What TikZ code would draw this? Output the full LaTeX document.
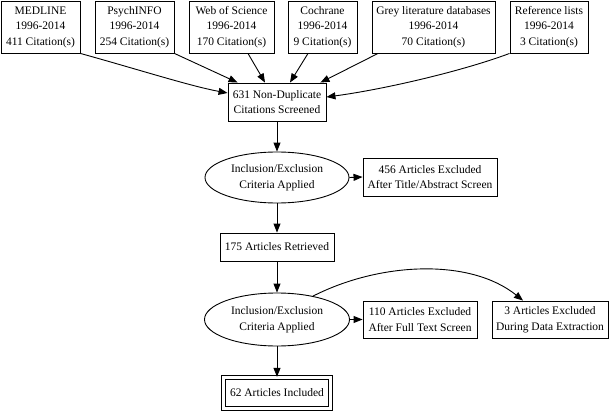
\documentclass[tikz,border=0pt]{standalone}
\usepackage{fontspec}
\setmainfont{Liberation Serif}
\usetikzlibrary{arrows.meta,shapes.geometric}
\begin{document}
\begin{tikzpicture}[x=1pt,y=-1pt,
  every node/.style={font=\fontsize{11.5}{15.5}\selectfont, align=center, inner sep=0pt},
  box/.style={draw, line width=0.9pt, rectangle},
  oval/.style={draw, line width=0.9pt, ellipse, minimum width=144pt, minimum height=51pt},
  final/.style={draw, line width=0.9pt, double, double distance=3pt, rectangle},
  edge/.style={line width=0.9pt, -{Triangle[length=9pt,width=7pt]}}]
\useasboundingbox (0,0) rectangle (611,412);
\node[box, minimum width=79pt, minimum height=52pt] (med) at (40.5,27) {MEDLINE\\1996-2014\\411 Citation(s)};
\node[box, minimum width=79pt, minimum height=52pt] (psy) at (134.5,27) {PsychINFO\\1996-2014\\254 Citation(s)};
\node[box, minimum width=85pt, minimum height=52pt] (wos) at (231.5,27) {Web of Science\\1996-2014\\170 Citation(s)};
\node[box, minimum width=69pt, minimum height=52pt] (coch) at (322.5,27) {Cochrane\\1996-2014\\9 Citation(s)};
\node[box, minimum width=123pt, minimum height=52pt] (grey) at (433.5,27) {Grey literature databases\\1996-2014\\70 Citation(s)};
\node[box, minimum width=78pt, minimum height=52pt] (ref) at (549,27) {Reference lists\\1996-2014\\3 Citation(s)};
\node[box, minimum width=98pt, minimum height=38pt] (nd) at (277,102) {631 Non-Duplicate\\Citations Screened};
\node[oval] (e1) at (277,177.5) {Inclusion/Exclusion\\Criteria Applied};
\node[box, minimum width=134pt, minimum height=38pt] (ex1) at (430,177) {456 Articles Excluded\\After Title/Abstract Screen};
\node[box, minimum width=114pt, minimum height=28pt] (ret) at (277,247) {175 Articles Retrieved};
\node[oval, minimum height=53pt, minimum width=145pt] (e2) at (277,319.5) {Inclusion/Exclusion\\Criteria Applied};
\node[box, minimum width=114pt, minimum height=37pt] (ex2) at (420,319.5) {110 Articles Excluded\\After Full Text Screen};
\node[box, minimum width=116pt, minimum height=37pt] (ex3) at (550,319.5) {3 Articles Excluded\\During Data Extraction};
\node[final, minimum width=106.4pt, minimum height=31.4pt] (inc) at (277,393) {62 Articles Included};

\draw[edge] (med.south east) .. controls (140,70) and (190,86) .. ([yshift=9pt]nd.west);
\draw[edge] (psy.south east) -- ([xshift=10pt]nd.north west);
\draw[edge] ([xshift=16.5pt]wos.south) -- ([xshift=-12pt]nd.north);
\draw[edge] ([xshift=-14.5pt]coch.south) -- ([xshift=13pt]nd.north);
\draw[edge] ([xshift=-55.5pt]grey.south) -- ([xshift=-6pt]nd.north east);
\draw[edge] (ref.south west) .. controls (460,72) and (380,90) .. ([yshift=5pt]nd.east);
\draw[edge] (nd.south) -- (e1.north);
\draw[edge] (e1.east) -- (ex1.west);
\draw[edge] (e1.south) -- (ret.north);
\draw[edge] (ret.south) -- (e2.north);
\draw[edge] (e2.east) -- (ex2.west);
\draw[edge] (e2.33) .. controls (380,262) and (470,258) .. ([xshift=-27pt]ex3.north);
\draw[edge] (e2.south) -- (inc.north);
\end{tikzpicture}
\end{document}
